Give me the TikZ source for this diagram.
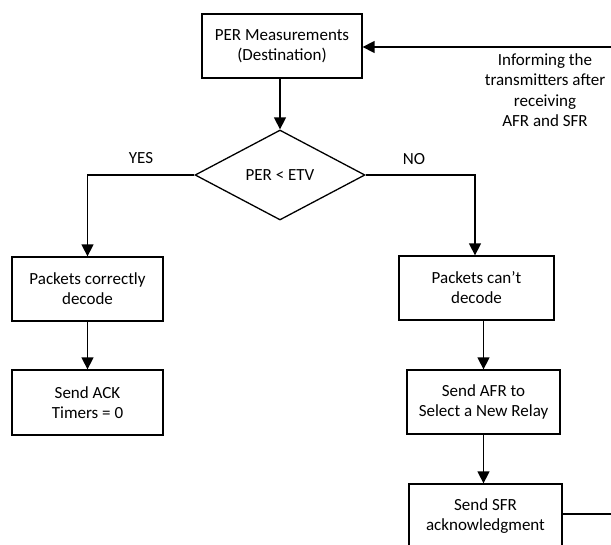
\documentclass[tikz,border=0pt]{standalone}
\usepackage{fontspec}
\setmainfont{Carlito}
\usetikzlibrary{arrows.meta,shapes.geometric}
\begin{document}
\begin{tikzpicture}[x=1pt,y=-1pt,
  box/.style={draw,line width=1.3pt,inner sep=0pt,align=center,font=\fontsize{17}{20}\selectfont},
  lbl/.style={inner sep=0pt,align=center,font=\fontsize{17}{20.5}\selectfont},
  conn/.style={line width=1.5pt},
  arr/.style={conn,-{Triangle[length=12pt,width=12pt]}}]
\clip (0,0) rectangle (611,545);
\fill[white] (0,0) rectangle (611,545);
\node[box,minimum width=160pt,minimum height=64pt] (per) at (282,46) {PER Measurements\\(Destination)};
\node[box,diamond,minimum width=170pt,minimum height=90pt] (dia) at (280,175) {PER < ETV};
\node[box,minimum width=151pt,minimum height=64pt] (pc) at (87.5,289) {Packets correctly\\decode};
\node[box,minimum width=151pt,minimum height=65pt] (ack) at (87.5,402.5) {Send ACK\\Timers = 0};
\node[box,minimum width=155pt,minimum height=64pt] (pcn) at (476.5,288) {Packets can’t\\decode};
\node[box,minimum width=153pt,minimum height=64pt] (afr) at (483.5,402) {Send AFR to\\Select a New Relay};
\node[box,minimum width=153pt,minimum height=64pt] (sfr) at (485.5,516) {Send SFR\\acknowledgment};
\node[lbl] (yes) at (141,158) {YES};
\node[lbl] (no) at (414,159) {NO};
\node[lbl] (inf) at (545,90) {Informing the\\transmitters after\\receiving\\AFR and SFR};
\coordinate (r1) at (611,514);
\coordinate (r2) at (611,47);
\draw[arr] (dia.north |- per.south) -- (dia.north);
\draw[arr] (dia.west) -| (pc.north);
\draw[arr] (dia.east) -| ([xshift=-1.5pt]pcn.north);
\draw[arr] (pc) -- (ack);
\draw[arr] (afr.north |- pcn.south) -- (afr.north);
\draw[arr] (afr.south) -- (afr.south |- sfr.north);
\draw[conn] (sfr.east |- r1) -- (r1);
\draw[arr] (r2) -- (per.east |- r2);
\end{tikzpicture}
\end{document}
